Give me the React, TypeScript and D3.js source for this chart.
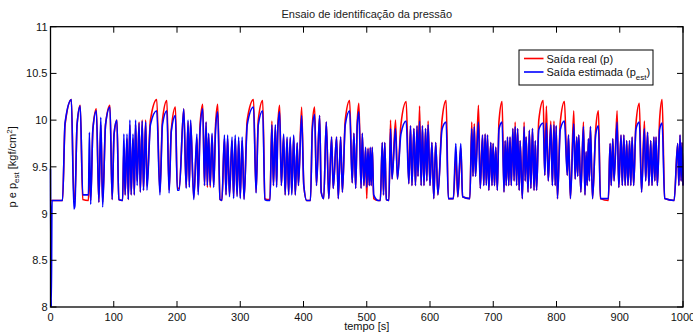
import React from "react";
import * as d3 from "d3";

// Sample times [s] (vertices)
const timeS = [
  0, 1.2, 2.4, 19, 23, 33, 37, 38.5, 42, 47,
  51, 60, 61.5, 63.5, 67, 72.5, 76.5, 79.5, 82.5, 87,
  94, 97.5, 100.5, 105, 108, 114, 116, 118, 121, 123,
  125.5, 127.5, 130.5, 132.5, 134.5, 137, 140, 142, 145, 147,
  150.5, 152.5, 158, 168, 173, 177, 184, 187.5, 191, 197.5,
  200.5, 203.5, 210.7, 214.5, 217.5, 219.5, 221.5, 226.5, 231.5, 233.5,
  236.5, 240.7, 243.5, 246, 248, 250, 252.5, 255.4, 258, 261,
  264.4, 268, 271, 275, 277.5, 280, 283, 287, 289.5, 292,
  295, 297.5, 300, 303, 306, 311, 321, 325, 328.5, 335.5,
  339, 342.5, 347, 350, 352.5, 355.5, 357.5, 359.5, 362.3, 365,
  368.6, 371, 374, 376.5, 379, 381.5, 384.5, 387, 390, 392,
  397, 400.5, 405, 411, 414, 417.6, 420.5, 425.5, 428, 432,
  436, 440, 444.4, 447, 452.3, 455, 458.7, 461.5, 466, 473,
  477, 479.7, 482.5, 485, 487.6, 491, 493, 495.5, 498.2, 500,
  502, 504, 505.5, 507, 508.7, 511, 518, 521.5, 524.5, 526.5,
  528.5, 531, 535, 537.6, 540, 545.5, 548.5, 554, 562.4, 566.5,
  569.2, 571.5, 574.5, 577, 579.5, 581, 583.5, 586, 588, 590.5,
  593, 595, 597, 600, 603, 606, 609, 612.5, 619, 625.5,
  629, 637, 640.8, 644, 648.7, 651.5, 663, 666, 668, 670,
  672, 676.6, 679.5, 683, 685, 687.2, 689, 690.9, 693, 696.1,
  698, 699.8, 702, 704, 706.5, 709, 714, 717, 718.8, 720.5,
  722.5, 724.5, 726.5, 728.5, 731, 733, 734.6, 737, 738.5, 741,
  742.5, 746, 748.8, 750.5, 752, 755, 757, 759.5, 762, 764.5,
  766.5, 768.5, 772, 779, 781.5, 784, 787, 791, 793.5, 796,
  798, 799.5, 801.5, 806, 812.6, 817, 818.9, 822, 827.3, 829.5,
  832, 833.5, 835.2, 838.5, 842.6, 845, 846.8, 848.5, 850.5, 852,
  853.6, 857, 862, 866.3, 869.5, 882, 884.7, 886.5, 889, 891,
  895.8, 898.5, 902, 904, 906.5, 908.5, 911, 913, 915.5, 917.5,
  919.5, 922, 925.5, 931, 934.5, 939, 941, 944, 946, 949,
  951, 954, 955.5, 957.4, 959.5, 963, 967, 971, 986, 991.6,
  993.5, 995.3, 997, 998.5, 1000,
];

// Saída real (p)
const realP = [
  9.14, 9.14, 9.14, 9.14, 9.95, 10.22, 9.15, 9.15, 9.95, 10.16,
  9.15, 9.14, 9.55, 9.14, 9.9, 10.12, 9.12, 9.95, 9.12, 9.95,
  10.16, 9.15, 9.85, 10.0, 9.15, 9.14, 9.7, 9.2, 9.8, 9.15,
  9.95, 9.2, 9.8, 9.2, 9.95, 9.35, 9.98, 9.23, 10.0, 9.25,
  10.0, 9.3, 10.0, 10.22, 9.23, 10.0, 10.21, 9.25, 9.9, 10.14,
  9.27, 9.27, 10.12, 9.28, 9.98, 9.3, 9.98, 9.17, 9.8, 9.23,
  9.95, 10.17, 9.3, 9.98, 9.28, 9.85, 9.28, 9.84, 9.3, 9.95,
  10.17, 9.15, 9.14, 9.8, 9.2, 9.8, 9.2, 9.78, 9.18, 9.8,
  9.2, 9.78, 9.18, 9.78, 9.16, 10.0, 10.22, 9.23, 10.0, 10.21,
  9.16, 9.15, 9.15, 9.99, 9.3, 9.93, 9.3, 9.95, 10.16, 9.3,
  9.83, 9.2, 9.8, 9.2, 9.8, 9.22, 9.82, 9.2, 9.75, 9.3,
  10.14, 9.3, 9.14, 9.14, 9.95, 10.14, 9.3, 10.05, 9.23, 9.16,
  9.98, 9.16, 9.82, 9.27, 9.82, 9.16, 9.82, 9.23, 10.0, 10.21,
  9.33, 9.86, 9.27, 9.98, 10.18, 9.27, 9.86, 9.3, 9.7, 9.16,
  9.7, 9.3, 9.7, 9.3, 9.71, 9.16, 9.14, 9.14, 9.76, 9.2,
  9.76, 9.15, 9.14, 10.0, 9.37, 10.0, 9.37, 9.95, 10.2, 9.32,
  9.94, 9.3, 9.91, 9.3, 9.94, 9.4, 10.15, 9.3, 9.94, 9.3,
  9.91, 9.35, 9.99, 9.3, 9.76, 9.16, 9.76, 9.2, 10.0, 10.21,
  9.16, 9.16, 9.6, 9.18, 9.7, 9.18, 9.16, 9.98, 9.4, 9.96,
  9.4, 10.16, 9.27, 9.84, 9.3, 9.85, 9.32, 9.84, 9.25, 9.76,
  9.3, 9.75, 9.3, 9.71, 9.25, 9.98, 10.2, 9.23, 9.78, 9.3,
  9.82, 9.3, 9.82, 9.3, 9.91, 9.35, 9.98, 9.3, 9.91, 9.25,
  9.78, 9.16, 9.98, 9.35, 9.82, 9.23, 9.89, 9.27, 9.91, 9.25,
  9.78, 9.25, 10.0, 10.21, 9.41, 10.15, 9.35, 9.99, 9.3, 9.99,
  9.3, 9.94, 9.16, 9.98, 10.2, 9.41, 9.84, 9.16, 10.1, 9.37,
  9.82, 9.4, 9.84, 9.23, 9.98, 9.2, 9.66, 9.3, 9.8, 9.35,
  9.93, 9.16, 9.9, 10.1, 9.16, 9.14, 9.75, 9.3, 9.8, 9.35,
  10.1, 9.28, 9.84, 9.3, 9.84, 9.3, 9.78, 9.3, 9.78, 9.3,
  9.82, 9.3, 9.95, 10.18, 9.23, 9.99, 9.35, 9.87, 9.3, 9.78,
  9.3, 9.82, 9.35, 9.82, 9.3, 10.0, 10.22, 9.16, 9.14, 9.75,
  9.3, 9.84, 9.35, 9.76, 9.3,
];

// Saída estimada (p_est)
const estP = [
  9.48, 8.0, 9.14, 9.14, 9.97, 10.22, 9.05, 9.08, 9.95, 10.15,
  9.2, 9.2, 9.87, 9.1, 9.9, 10.1, 9.12, 10.03, 9.07, 9.95,
  10.14, 9.15, 9.85, 10.0, 9.15, 9.14, 9.85, 9.2, 9.85, 9.15,
  10.0, 9.2, 9.85, 9.2, 10.0, 9.3, 9.97, 9.23, 9.99, 9.25,
  9.98, 9.25, 9.95, 10.1, 9.2, 9.95, 10.1, 9.22, 9.88, 10.05,
  9.25, 9.25, 10.12, 9.27, 10.0, 9.28, 10.0, 9.15, 9.85, 9.2,
  9.9, 10.12, 9.3, 9.98, 9.3, 9.86, 9.3, 9.86, 9.28, 9.9,
  10.09, 9.15, 9.14, 9.84, 9.2, 9.84, 9.18, 9.82, 9.16, 9.84,
  9.18, 9.82, 9.16, 9.82, 9.15, 9.95, 10.14, 9.22, 9.95, 10.1,
  9.15, 9.14, 9.14, 9.95, 9.3, 9.95, 9.28, 9.92, 10.09, 9.3,
  9.85, 9.2, 9.82, 9.2, 9.82, 9.2, 9.84, 9.2, 9.76, 9.3,
  10.05, 9.3, 9.14, 9.14, 9.9, 10.06, 9.3, 10.05, 9.23, 9.16,
  9.98, 9.16, 9.82, 9.27, 9.82, 9.16, 9.82, 9.23, 9.95, 10.1,
  9.33, 9.86, 9.27, 9.95, 10.09, 9.27, 9.86, 9.3, 9.71, 9.28,
  9.69, 9.3, 9.71, 9.3, 9.71, 9.2, 9.14, 9.14, 9.76, 9.2,
  9.76, 9.15, 9.14, 9.91, 9.37, 9.91, 9.37, 9.85, 9.99, 9.32,
  9.94, 9.3, 9.91, 9.3, 9.94, 9.4, 9.99, 9.3, 9.94, 9.3,
  9.91, 9.35, 9.95, 9.3, 9.76, 9.16, 9.76, 9.2, 9.9, 9.98,
  9.16, 9.16, 9.75, 9.18, 9.75, 9.18, 9.16, 9.91, 9.4, 9.93,
  9.4, 9.98, 9.27, 9.84, 9.3, 9.85, 9.3, 9.84, 9.25, 9.76,
  9.3, 9.75, 9.3, 9.71, 9.25, 9.9, 9.98, 9.23, 9.78, 9.3,
  9.82, 9.3, 9.82, 9.3, 9.91, 9.35, 9.93, 9.3, 9.91, 9.25,
  9.78, 9.16, 9.93, 9.35, 9.82, 9.23, 9.89, 9.27, 9.91, 9.25,
  9.78, 9.25, 9.9, 9.97, 9.41, 9.97, 9.35, 9.95, 9.3, 9.95,
  9.3, 9.94, 9.16, 9.9, 9.99, 9.41, 9.84, 9.16, 9.96, 9.37,
  9.82, 9.4, 9.84, 9.23, 9.93, 9.2, 9.66, 9.3, 9.8, 9.35,
  9.93, 9.16, 9.85, 9.94, 9.16, 9.16, 9.75, 9.3, 9.8, 9.35,
  9.98, 9.28, 9.84, 9.3, 9.84, 9.3, 9.78, 9.3, 9.78, 9.3,
  9.82, 9.3, 9.9, 9.98, 9.23, 9.91, 9.35, 9.87, 9.3, 9.78,
  9.3, 9.82, 9.35, 9.82, 9.3, 9.9, 9.97, 9.16, 9.14, 9.75,
  9.3, 9.84, 9.35, 9.76, 9.3,
];

const xTicks = [0, 100, 200, 300, 400, 500, 600, 700, 800, 900, 1000];
const yTicks = [8, 8.5, 9, 9.5, 10, 10.5, 11];
const titleText = "Ensaio de identificação da pressão";
const xLabel = "tempo [s]";
const legendReal = "Saída real (p)";

const W = 693;
const H = 333;
const FONT = "'Liberation Sans', Arial, Helvetica, sans-serif";

export default function App() {
  const x = d3.scaleLinear().domain([0, 1000]).range([50.5, 683]);
  const y = d3.scaleLinear().domain([8, 11]).range([307, 26.7]);

  const idx = d3.range(timeS.length);
  const lineReal = d3
    .line<number>()
    .x((i) => x(timeS[i]))
    .y((i) => y(realP[i]))
    .curve(d3.curveMonotoneX);
  const lineEst = d3
    .line<number>()
    .x((i) => x(timeS[i]))
    .y((i) => y(estP[i]))
    .curve(d3.curveMonotoneX);

  const x0 = x(0);
  const x1 = x(1000);
  const yTop = y(11);
  const yBot = y(8);
  const tl = 6;

  const lgX = 519;
  const lgY = 50;
  const lgW = 134;
  const lgH = 35;

  return (
    <svg
      width={W}
      height={H}
      style={{ position: "absolute", left: 0, top: 0, background: "#fff" }}
      fontFamily={FONT}
    >
      <rect x={0} y={0} width={W} height={H} fill="#fff" />
      <text x={(x0 + x1) / 2} y={18} fontSize={11} textAnchor="middle" fill="#222">
        {titleText}
      </text>

      <path d={lineReal(idx) || ""} fill="none" stroke="#ff0000" strokeWidth={1.6} strokeLinejoin="round" />
      <path d={lineEst(idx) || ""} fill="none" stroke="#0000ff" strokeWidth={1.6} strokeLinejoin="round" />

      {/* axes box */}
      <rect x={x0} y={yTop} width={x1 - x0} height={yBot - yTop} fill="none" stroke="#000" strokeWidth={1.3} />
      {xTicks.map((t) => (
        <g key={"xt" + t}>
          <line x1={x(t)} x2={x(t)} y1={yBot} y2={yBot - tl} stroke="#000" strokeWidth={1} />
          <line x1={x(t)} x2={x(t)} y1={yTop} y2={yTop + tl} stroke="#000" strokeWidth={1} />
          <text x={x(t)} y={320.5} fontSize={11} textAnchor="middle" fill="#111">
            {t}
          </text>
        </g>
      ))}
      {yTicks.map((t) => (
        <g key={"yt" + t}>
          <line x1={x0} x2={x0 + tl} y1={y(t)} y2={y(t)} stroke="#000" strokeWidth={1} />
          <line x1={x1} x2={x1 - tl} y1={y(t)} y2={y(t)} stroke="#000" strokeWidth={1} />
          <text x={47.5} y={y(t) + 4} fontSize={11} textAnchor="end" fill="#111">
            {t}
          </text>
        </g>
      ))}

      <text x={(x0 + x1) / 2} y={329.5} fontSize={11} textAnchor="middle" fill="#111">
        {xLabel}
      </text>

      <text
        transform={`translate(16,${(yTop + yBot) / 2}) rotate(-90)`}
        fontSize={11}
        textAnchor="middle"
        fill="#111"
      >
        p e p<tspan fontSize={8} dy={3}>est</tspan>
        <tspan dy={-3}> [kgf/cm</tspan>
        <tspan fontSize={8} dy={-4}>2</tspan>
        <tspan dy={4}>]</tspan>
      </text>

      {/* legend */}
      <rect x={lgX} y={lgY} width={lgW} height={lgH} fill="#fff" stroke="#000" strokeWidth={1} />
      <line x1={524} x2={543.5} y1={58.5} y2={58.5} stroke="#ff0000" strokeWidth={1.6} />
      <line x1={524} x2={543.5} y1={72} y2={72} stroke="#0000ff" strokeWidth={1.6} />
      <text x={546.5} y={62.5} fontSize={11} fill="#111">
        {legendReal}
      </text>
      <text x={546.5} y={76} fontSize={11} fill="#111">
        Saída estimada (p<tspan fontSize={8} dy={4}>est</tspan>
        <tspan dy={-4}>)</tspan>
      </text>
    </svg>
  );
}
